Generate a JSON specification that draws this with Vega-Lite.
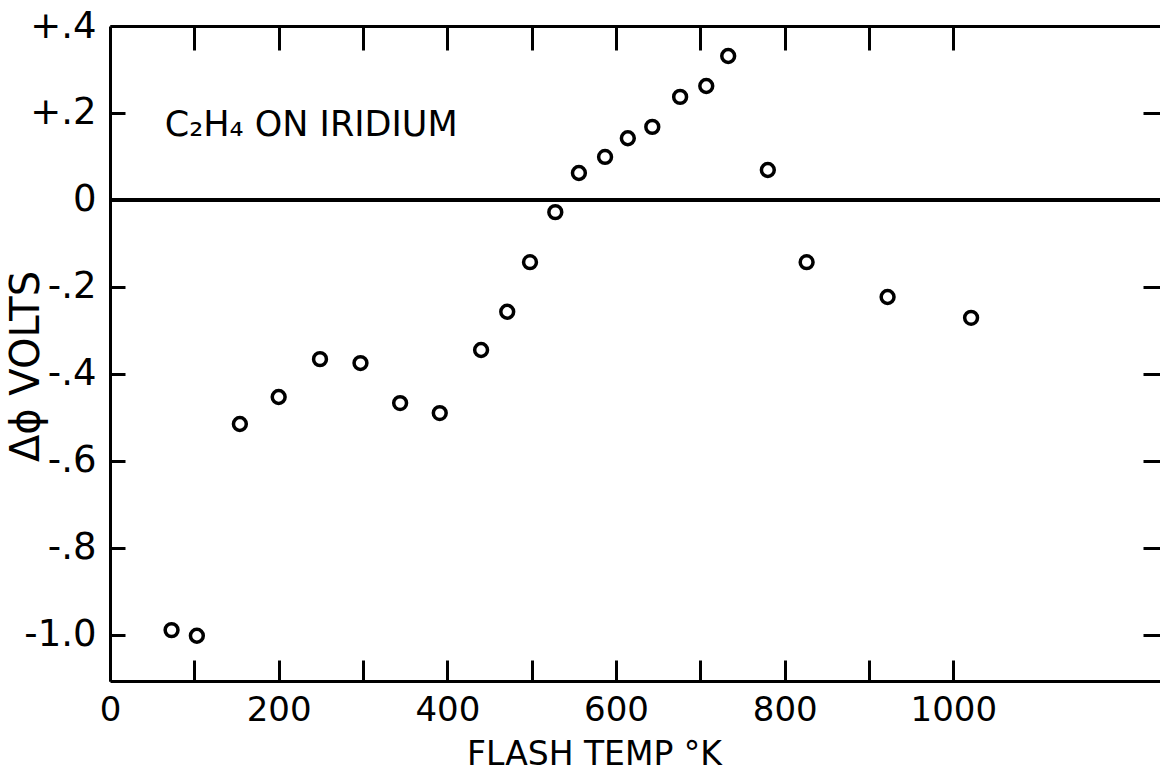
{
  "$schema": "https://vega.github.io/schema/vega-lite/v6.json",
  "width": 1050,
  "height": 655,
  "autosize": {"type": "none"},
  "padding": {"left": 110, "top": 26, "right": 0, "bottom": 94},
  "background": "white",
  "config": {
    "view": {"stroke": null},
    "axis": {
      "grid": false,
      "domainColor": "black",
      "tickColor": "black",
      "labelColor": "black",
      "titleColor": "black",
      "labelFont": "DejaVu Sans",
      "titleFont": "DejaVu Sans",
      "titleFontWeight": "normal",
      "labelFlush": false,
      "labelOverlap": false,
      "labelBound": false
    }
  },
  "data": {
    "values": [
      {"temp": 73, "dphi": -0.989},
      {"temp": 103, "dphi": -1.002},
      {"temp": 154, "dphi": -0.515},
      {"temp": 200, "dphi": -0.453},
      {"temp": 249, "dphi": -0.366},
      {"temp": 297, "dphi": -0.375},
      {"temp": 344, "dphi": -0.467},
      {"temp": 391, "dphi": -0.49},
      {"temp": 440, "dphi": -0.345},
      {"temp": 471, "dphi": -0.257},
      {"temp": 498, "dphi": -0.143},
      {"temp": 528, "dphi": -0.028},
      {"temp": 556, "dphi": 0.062},
      {"temp": 587, "dphi": 0.099},
      {"temp": 614, "dphi": 0.142},
      {"temp": 643, "dphi": 0.168},
      {"temp": 676, "dphi": 0.237},
      {"temp": 707, "dphi": 0.262},
      {"temp": 733, "dphi": 0.331},
      {"temp": 780, "dphi": 0.069},
      {"temp": 826, "dphi": -0.143},
      {"temp": 922, "dphi": -0.223},
      {"temp": 1021, "dphi": -0.271}
    ]
  },
  "resolve": {"axis": {"x": "independent", "y": "independent"}},
  "layer": [
    {
      "mark": {"type": "rule", "strokeWidth": 3, "color": "black"},
      "encoding": {
        "y": {"datum": 0, "type": "quantitative", "axis": null}
      }
    },
    {
      "mark": {"type": "point", "shape": "circle", "filled": false, "stroke": "black", "strokeWidth": 3.5, "size": 165, "opacity": 1},
      "encoding": {
        "x": {
          "field": "temp", "type": "quantitative",
          "scale": {"domain": [0, 1245], "nice": false, "zero": false},
          "axis": {
            "orient": "bottom",
            "values": [0, 100, 200, 300, 400, 500, 600, 700, 800, 900, 1000],
            "format": "d",
            "labelExpr": "datum.value % 200 == 0 ? datum.label : ''",
            "domainWidth": 3,
            "tickWidth": 3,
            "tickSize": -21,
            "labelFontSize": 34,
            "labelPadding": 33,
            "title": "FLASH TEMP °K",
            "titleFontSize": 33,
            "titleX": 484,
            "titleY": 73,
            "titleBaseline": "middle"
          }
        },
        "y": {
          "field": "dphi", "type": "quantitative",
          "scale": {"domain": [-1.106, 0.4], "nice": false, "zero": false},
          "axis": {
            "orient": "left",
            "values": [0.4, 0.2, 0, -0.2, -0.4, -0.6, -0.8, -1.0],
            "labelExpr": "datum.value > 0.3 ? '+.4' : datum.value > 0.1 ? '+.2' : datum.value > -0.1 ? '0' : datum.value < -0.9 ? '-1.0' : '-.' + format(-datum.value * 10, '.0f')",
            "domainWidth": 3,
            "tickWidth": 3,
            "tickSize": -15,
            "labelFontSize": 37,
            "labelPadding": 29,
            "labelBaseline": "middle",
            "title": "Δϕ VOLTS",
            "titleFontSize": 40,
            "titleX": -84,
            "titleY": 340,
            "titleBaseline": "middle"
          }
        }
      }
    },
    {
      "data": {"values": [{"temp": 65, "dphi": 0.172, "label": "C₂H₄ ON IRIDIUM"}]},
      "mark": {"type": "text", "align": "left", "baseline": "middle", "font": "DejaVu Sans", "fontSize": 35, "color": "black"},
      "encoding": {
        "x": {
          "field": "temp", "type": "quantitative",
          "axis": {
            "orient": "top",
            "values": [100, 200, 300, 400, 500, 600, 700, 800, 900, 1000],
            "labels": false,
            "domainWidth": 3,
            "tickWidth": 3,
            "tickSize": -24,
            "title": null
          }
        },
        "y": {
          "field": "dphi", "type": "quantitative",
          "axis": {
            "orient": "right",
            "values": [0.2, -0.2, -0.4, -0.6, -0.8, -1.0],
            "labels": false,
            "domain": false,
            "tickWidth": 3,
            "tickSize": -17,
            "title": null
          }
        },
        "text": {"field": "label"}
      }
    }
  ]
}
